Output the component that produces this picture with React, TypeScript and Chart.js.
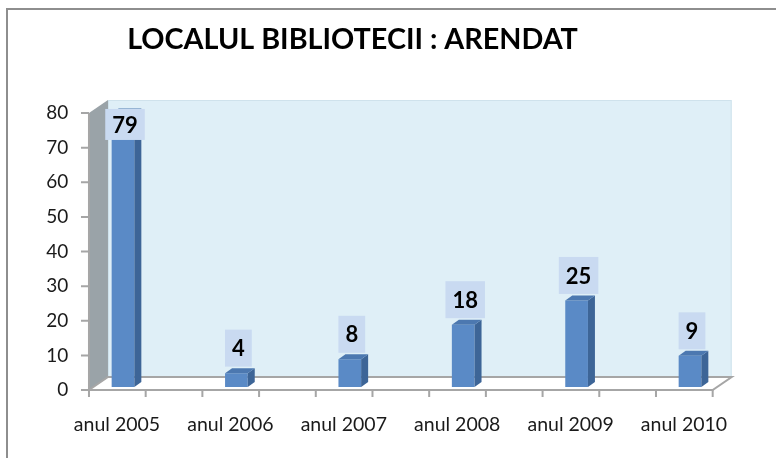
import React, { useEffect, useRef } from "react";
import { Chart, registerables } from "chart.js";

Chart.register(...registerables);

const chartTitle = "LOCALUL BIBLIOTECII : ARENDAT";
const categories = ["anul 2005", "anul 2006", "anul 2007", "anul 2008", "anul 2009", "anul 2010"];
const values = [79, 4, 8, 18, 25, 9];
const yMin = 0;
const yMax = 80;
const yStep = 10;

const FONT = "Lato, 'Open Sans', sans-serif";

const FRONT_COLOR = "#5A8AC6";
const SIDE_COLOR = "#3D6597";
const TOP_COLOR = "#4C78B0";

const scene3d = {
  id: "scene3d",
  afterLayout(chart: any) {
    // widen the label clip box of the value axis so labels can reach the wall
    const y = chart.scales.y;
    y.right = y.right + 6;
  },
  beforeDraw(chart: any) {
    const ctx = chart.ctx as CanvasRenderingContext2D;
    ctx.save();
    ctx.fillStyle = "#ffffff";
    ctx.fillRect(0, 0, chart.width, chart.height);
    ctx.fillStyle = "#8e8e8e";
    ctx.fillRect(6, 8, chart.width - 6, 2);
    ctx.fillRect(6, 8, 2, chart.height - 8);
    // title
    let size = 26;
    ctx.font = `bold ${size}px ${FONT}`;
    const w = ctx.measureText(chartTitle).width;
    size = (size * 451) / w;
    ctx.font = `bold ${size}px ${FONT}`;
    ctx.fillStyle = "#000";
    ctx.textAlign = "center";
    ctx.textBaseline = "alphabetic";
    ctx.fillText(chartTitle, 352.5, 49);
    ctx.restore();
  },
  beforeDatasetsDraw(chart: any) {
    const ctx = chart.ctx as CanvasRenderingContext2D;
    const x = chart.scales.x;
    const y = chart.scales.y;
    const cw = x.getPixelForValue(1) - x.getPixelForValue(0);
    const fl = x.getPixelForValue(0) - 0.3 * cw;
    const fr = fl + 5.5 * cw;
    const bl = fl + 19;
    const br = fr + 19;
    const yF = (v: number) => y.getPixelForValue(v) + 3;
    const yB = (v: number) => y.getPixelForValue(v) - 10;
    ctx.save();
    // back wall
    ctx.fillStyle = "#DFEFF7";
    ctx.fillRect(bl, yB(yMax), br - bl, yB(yMin) - yB(yMax));
    ctx.strokeStyle = "#CFE2EC";
    ctx.lineWidth = 1;
    ctx.strokeRect(bl + 0.5, yB(yMax) + 0.5, br - bl - 1, yB(yMin) - yB(yMax));
    // left wall
    ctx.fillStyle = "#9AA3A8";
    ctx.beginPath();
    ctx.moveTo(fl, yF(yMin));
    ctx.lineTo(fl, yF(yMax));
    ctx.lineTo(bl, yB(yMax));
    ctx.lineTo(bl, yB(yMin));
    ctx.closePath();
    ctx.fill();
    // floor
    ctx.fillStyle = "#ffffff";
    ctx.strokeStyle = "#A6A6A6";
    ctx.lineWidth = 2;
    ctx.beginPath();
    ctx.moveTo(fl, yF(yMin));
    ctx.lineTo(fr, yF(yMin));
    ctx.lineTo(br, yB(yMin));
    ctx.lineTo(bl, yB(yMin));
    ctx.closePath();
    ctx.fill();
    ctx.stroke();
    // vertical axis line
    ctx.beginPath();
    ctx.moveTo(fl, yF(yMin));
    ctx.lineTo(fl, yF(yMax));
    ctx.stroke();
    // y ticks
    ctx.beginPath();
    for (let v = yMin; v <= yMax; v += yStep) {
      ctx.moveTo(fl - 8, yF(v));
      ctx.lineTo(fl, yF(v));
    }
    ctx.stroke();
    // x ticks
    ctx.beginPath();
    for (let k = 0; k <= 11; k++) {
      const px = fl + (k * cw) / 2;
      ctx.moveTo(px, yF(yMin));
      ctx.lineTo(px, yF(yMin) + 7);
    }
    ctx.stroke();
    ctx.restore();
  },
  afterDatasetsDraw(chart: any) {
    const ctx = chart.ctx as CanvasRenderingContext2D;
    const yScale = chart.scales.y;
    const wallTop = yScale.getPixelForValue(yMax) - 10;
    const meta = chart.getDatasetMeta(0);
    ctx.save();
    meta.data.forEach((bar: any, i: number) => {
      const p = bar.getProps(["x", "y", "base", "width"], true);
      const l = p.x - p.width / 2;
      const r = p.x + p.width / 2;
      const dx = 7;
      const dy = -5;
      // side
      ctx.fillStyle = SIDE_COLOR;
      ctx.beginPath();
      ctx.moveTo(r, p.y);
      ctx.lineTo(r + dx, p.y + dy);
      ctx.lineTo(r + dx, p.base + dy);
      ctx.lineTo(r, p.base);
      ctx.closePath();
      ctx.fill();
      // top
      ctx.fillStyle = TOP_COLOR;
      ctx.beginPath();
      ctx.moveTo(l, p.y);
      ctx.lineTo(l + dx, p.y + dy);
      ctx.lineTo(r + dx, p.y + dy);
      ctx.lineTo(r, p.y);
      ctx.closePath();
      ctx.fill();
      // label
      const txt = String(values[i]);
      ctx.font = `bold 22px ${FONT}`;
      const tw = ctx.measureText(txt).width;
      const bw = tw + 14;
      let bh = 37;
      let top = p.y - 6.5 - bh;
      if (top < wallTop) {
        bh = 31;
        top = p.y - 4.5;
      }
      const cx = p.x + 2;
      ctx.fillStyle = "#C9DAF1";
      ctx.fillRect(cx - bw / 2, top, bw, bh);
      ctx.fillStyle = "#000";
      ctx.textAlign = "center";
      ctx.textBaseline = "middle";
      ctx.fillText(txt, cx, top + bh / 2 + 1);
    });
    ctx.restore();
  },
};

export default function App() {
  const ref = useRef<HTMLCanvasElement | null>(null);
  useEffect(() => {
    document.body.style.margin = "0";
    const canvas = ref.current;
    if (!canvas) return;
    const chart = new Chart(canvas, {
      type: "bar",
      data: {
        labels: categories,
        datasets: [
          {
            data: values,
            backgroundColor: FRONT_COLOR,
            borderWidth: 0,
            barPercentage: 0.2,
            categoryPercentage: 1,
          },
        ],
      },
      options: {
        responsive: false,
        animation: false,
        devicePixelRatio: 1,
        layout: { padding: { left: 0, right: 29.3, top: 110, bottom: 0 } },
        plugins: {
          legend: { display: false },
          title: { display: false },
          tooltip: { enabled: false },
        },
        scales: {
          x: {
            type: "category",
            offset: true,
            grid: { display: false, drawTicks: false },
            border: { display: false },
            ticks: {
              color: "#1a1a1a",
              font: { family: FONT, size: 19.5 },
              padding: 26,
              labelOffset: -6,
              maxRotation: 0,
              autoSkip: false,
            },
            afterFit: (s: any) => {
              s.height = 71;
            },
          },
          y: {
            min: yMin,
            max: yMax,
            grid: { display: false, drawTicks: false },
            border: { display: false },
            ticks: {
              stepSize: yStep,
              color: "#1a1a1a",
              font: { family: FONT, size: 19 },
              padding: 4,
              labelOffset: 3,
            },
            afterFit: (s: any) => {
              s.width = 66.3;
            },
          },
        },
      },
      plugins: [scene3d],
    });
    return () => chart.destroy();
  }, []);
  return <canvas ref={ref} width={776} height={458} style={{ display: "block" }} />;
}
